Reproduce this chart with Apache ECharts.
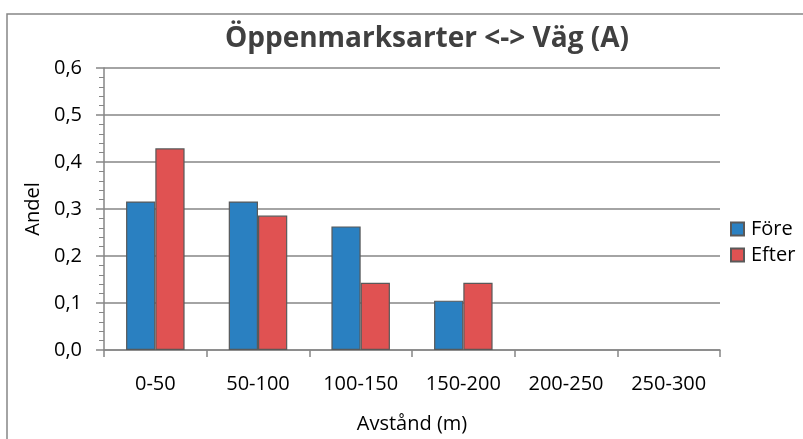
<!DOCTYPE html>
<html>
<head>
<meta charset="utf-8">
<script src="https://cdn.jsdelivr.net/npm/echarts@6/dist/echarts.min.js"></script>
<style>
  html, body { margin: 0; padding: 0; background: #fff; }
  #chart { width: 803px; height: 439px; }
</style>
</head>
<body>
<div id="chart"></div>
<script>
// 数据
const categories = ['0-50', '50-100', '100-150', '150-200', '200-250', '250-300']
const foreValues = [0.316, 0.316, 0.263, 0.105, 0, 0]
const efterValues = [0.429, 0.286, 0.143, 0.143, 0, 0]
const seriesNames = ['Före', 'Efter']
const yTicks = [0, 0.1, 0.2, 0.3, 0.4, 0.5, 0.6]

const FONT = '"Open Sans", "DejaVu Sans", sans-serif'
const GRAY = '#868686'
const BORDER = '#595959'

// 零值柱子不画边框
const toBarData = values => values.map(v => (v === 0 ? { value: v, itemStyle: { borderWidth: 0 } } : v))

const myChart = echarts.init(document.getElementById('chart'))

const option = {
  animation: false,
  backgroundColor: '#fff',
  textStyle: { fontFamily: FONT },

  title: {
    text: 'Öppenmarksarter <-> Väg (A)',
    left: 422,
    textAlign: 'center',
    top: 20,
    textStyle: {
      fontFamily: FONT,
      fontSize: 28,
      fontWeight: 'bold',
      color: '#404040'
    }
  },

  // 外框 (只露出上边和左边)
  graphic: [
    {
      type: 'rect',
      shape: { x: 7, y: 14, width: 900, height: 600 },
      style: { fill: 'none', stroke: GRAY, lineWidth: 1.5 },
      silent: true
    }
  ],

  legend: {
    orient: 'vertical',
    left: 730,
    top: 219,
    padding: 0,
    itemWidth: 13,
    itemHeight: 13,
    itemGap: 6,
    icon: 'rect',
    textStyle: { fontFamily: FONT, fontSize: 20, color: '#000', padding: [0, 0, 0, 2] },
    data: seriesNames
  },

  grid: {
    left: 104,
    right: 83,
    top: 68,
    bottom: 82
  },

  xAxis: {
    type: 'category',
    data: categories,
    name: 'Avstånd (m)',
    nameLocation: 'middle',
    nameGap: 64,
    nameTextStyle: { fontFamily: FONT, fontSize: 20, color: '#000' },
    axisLine: { lineStyle: { color: GRAY, width: 1.5 } },
    axisTick: { show: true, alignWithLabel: false, length: 7, lineStyle: { color: GRAY, width: 1.5 } },
    axisLabel: { fontFamily: FONT, fontSize: 20, color: '#000', margin: 24 }
  },

  yAxis: {
    type: 'value',
    min: yTicks[0],
    max: yTicks[yTicks.length - 1],
    interval: 0.1,
    name: 'Andel',
    nameLocation: 'middle',
    nameRotate: 90,
    nameGap: 60,
    nameTextStyle: { fontFamily: FONT, fontSize: 20, color: '#000' },
    axisLine: { show: true, lineStyle: { color: GRAY, width: 1.5 } },
    axisTick: { show: true, inside: false, length: 8, lineStyle: { color: GRAY, width: 1.5 } },
    minorTick: { show: true, splitNumber: 5, length: 5, lineStyle: { color: GRAY, width: 1 } },
    splitLine: { show: true, lineStyle: { color: GRAY, width: 1.5 } },
    axisLabel: {
      fontFamily: FONT,
      fontSize: 20,
      color: '#000',
      margin: 22,
      formatter: v => v.toFixed(1).replace('.', ',')
    }
  },

  series: [
    {
      name: seriesNames[0],
      type: 'bar',
      data: toBarData(foreValues),
      barGap: 0,
      barCategoryGap: '43%',
      itemStyle: { color: '#2a80c1', borderColor: BORDER, borderWidth: 1.2 }
    },
    {
      name: seriesNames[1],
      type: 'bar',
      data: toBarData(efterValues),
      barGap: 0,
      barCategoryGap: '43%',
      itemStyle: { color: '#e05252', borderColor: BORDER, borderWidth: 1.2 }
    }
  ]
}

myChart.setOption(option)
</script>
</body>
</html>
